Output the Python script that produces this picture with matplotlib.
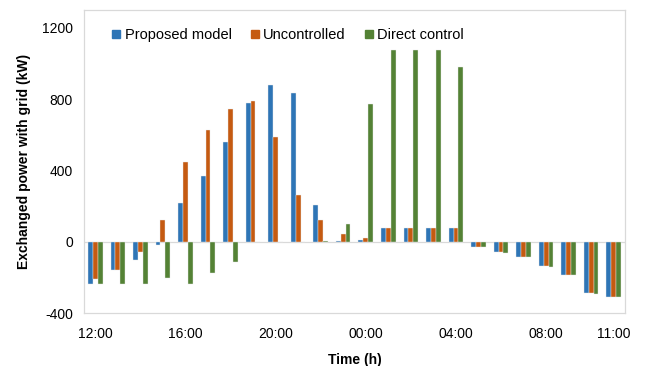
import matplotlib
matplotlib.use("Agg")
import numpy as np
from matplotlib import pyplot as plt
from matplotlib.lines import Line2D

plt.rcParams["font.family"] = ["Liberation Sans", "DejaVu Sans"]
plt.rcParams["axes.unicode_minus"] = False

hours = [f"{(12 + i) % 24:02d}:00" for i in range(24)]
label_idx = [0, 4, 8, 12, 16, 20, 23]

proposed = [-235, -159, -105, -19, 219, 368, 559, 780, 877, 832, 206, 2,
            11, 75, 75, 75, 75, -28, -58, -84, -137, -185, -288, -309]
uncontrolled = [-211, -159, -56, 122, 445, 628, 744, 787, 589, 262, 122, 41,
                22, 75, 75, 75, 75, -28, -58, -84, -137, -185, -288, -309]
direct = [-240, -240, -236, -206, -236, -176, -112, 0, 0, 0, 5, 97,
          770, 1077, 1077, 1077, 978, -32, -62, -88, -140, -189, -292, -312]

series = [("Proposed model", proposed, "#2E75B6"),
          ("Uncontrolled", uncontrolled, "#C55A11"),
          ("Direct control", direct, "#548235")]


def main() -> None:
    fig = plt.figure(figsize=(6.48, 3.66), dpi=100)
    ax = fig.add_axes([0.1296, 0.1448, 0.8349, 0.828])

    x = np.arange(len(hours))
    w = 0.215
    for k, (name, vals, col) in enumerate(series):
        ax.bar(x + (k - 1) * w, vals, w, color=col, edgecolor="#e8e8e8",
               linewidth=0.3, zorder=2)

    ax.axhline(0, color="#d9d9d9", linewidth=0.9, zorder=1)
    ax.set_xlim(-0.5, len(hours) - 0.5)
    ax.set_ylim(-400, 1300)
    ax.set_yticks([-400, 0, 400, 800, 1200])
    ax.set_xticks(x[label_idx])
    ax.set_xticklabels([hours[i] for i in label_idx])
    ax.tick_params(length=0, labelsize=10, colors="black")
    ax.tick_params(axis="x", pad=10)
    ax.tick_params(axis="y", pad=8)
    for s in ax.spines.values():
        s.set_color("#d9d9d9")
        s.set_linewidth(0.9)

    ax.set_xlabel("Time (h)", fontsize=10, fontweight="bold", labelpad=9)
    ax.set_ylabel("Exchanged power with grid (kW)", fontsize=10,
                  fontweight="bold", labelpad=8)

    handles = [Line2D([], [], marker="s", linestyle="none", markersize=6,
                      color=c, label=n) for n, _, c in series]
    ax.legend(handles=handles, ncol=3, loc="upper left",
              bbox_to_anchor=(0.052, 0.94), frameon=False, fontsize=10.5,
              handlelength=0.6, handletextpad=0.25,
              columnspacing=1.3, borderpad=0, borderaxespad=0)

    fig.savefig("out.png", dpi=100)


if __name__ == "__main__":
    main()
